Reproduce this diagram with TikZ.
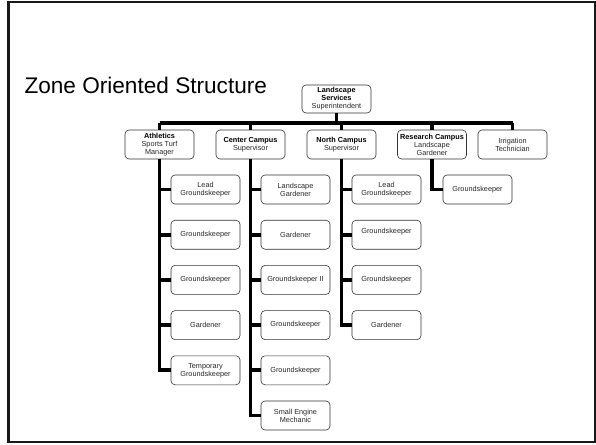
\documentclass[tikz,border=0pt]{standalone}
\usepackage{fontspec}
\setmainfont{Liberation Sans}
\begin{document}
\begin{tikzpicture}[x=1pt,y=-1pt,
  box/.style={draw=black!80,line width=0.6pt,rounded corners=4pt,minimum width=69pt,minimum height=29pt,
    inner sep=1pt,align=center,font=\fontsize{7.3}{8.0}\selectfont,text=black!85},
  conn/.style={line width=3.8pt,black}]
\useasboundingbox (0,0) rectangle (596,444);
\draw[line width=2.6pt,black!90] (8.5,2) rectangle (595,442);
\node[anchor=base west,font=\fontsize{22.6}{26}\selectfont] (title) at (21,93) {Zone Oriented Structure};
% top
\node[box,minimum height=28pt] (top) at (336.5,99) {\textbf{\color{black}Landscape}\\\textbf{\color{black}Services}\\Superintendent};
\coordinate (bus) at (336.5,123);
% level 1
\node[box] (ath) at (159.5,144.5) {\textbf{\color{black}Athletics}\\Sports Turf\\Manager};
\node[box] (cen) at (250.5,144.5) {\textbf{\color{black}Center Campus}\\Supervisor};
\node[box] (nor) at (341.5,144.5) {\textbf{\color{black}North Campus}\\Supervisor};
\node[box] (res) at (432,144.5) {\textbf{\color{black}Research Campus}\\Landscape\\Gardener};
\node[box] (irr) at (512.5,144.5) {Irrigation\\Technician};
% Athletics children
\node[box] (a1) at (205.5,189.5) {Lead\\Groundskeeper};
\node[box] (a2) at (205.5,234.7) {Groundskeeper};
\node[box] (a3) at (205.5,279.9) {Groundskeeper};
\node[box] (a4) at (205.5,325.1) {Gardener};
\node[box] (a5) at (205.5,370.3) {Temporary\\Groundskeeper};
% Center children
\node[box] (c1) at (295.5,189.5) {Landscape\\Gardener};
\node[box] (c2) at (295.5,234.7) {Gardener};
\node[box] (c3) at (295.5,279.9) {Groundskeeper II};
\node[box] (c4) at (295.5,325.1) {Groundskeeper};
\node[box] (c5) at (295.5,370.3) {Groundskeeper};
\node[box] (c6) at (295.5,415.5) {Small Engine\\Mechanic};
% North children
\node[box] (n1) at (386.5,189.5) {Lead\\Groundskeeper};
\node[box] (n2) at (386.5,234.7) {Groundskeeper\\~};
\node[box] (n3) at (386.5,279.9) {Groundskeeper};
\node[box] (n4) at (386.5,325.1) {Gardener};
% Research child
\node[box] (r1) at (477.5,189.5) {Groundskeeper};
% connectors
\draw[conn] (top.south) -- (bus);
\draw[conn] (ath.north |- bus) -- (irr.north |- bus);
\foreach \n in {ath,cen,nor,res,irr} \draw[conn] (bus -| \n.north) -- (\n.north);
\foreach \c in {a1,a2,a3,a4,a5} \draw[conn] (ath.south) |- (\c.west);
\foreach \c in {c1,c2,c3,c4,c5,c6} \draw[conn] (cen.south) |- (\c.west);
\foreach \c in {n1,n2,n3,n4} \draw[conn] (nor.south) |- (\c.west);
\draw[conn] (res.south) |- (r1.west);
\end{tikzpicture}
\end{document}
